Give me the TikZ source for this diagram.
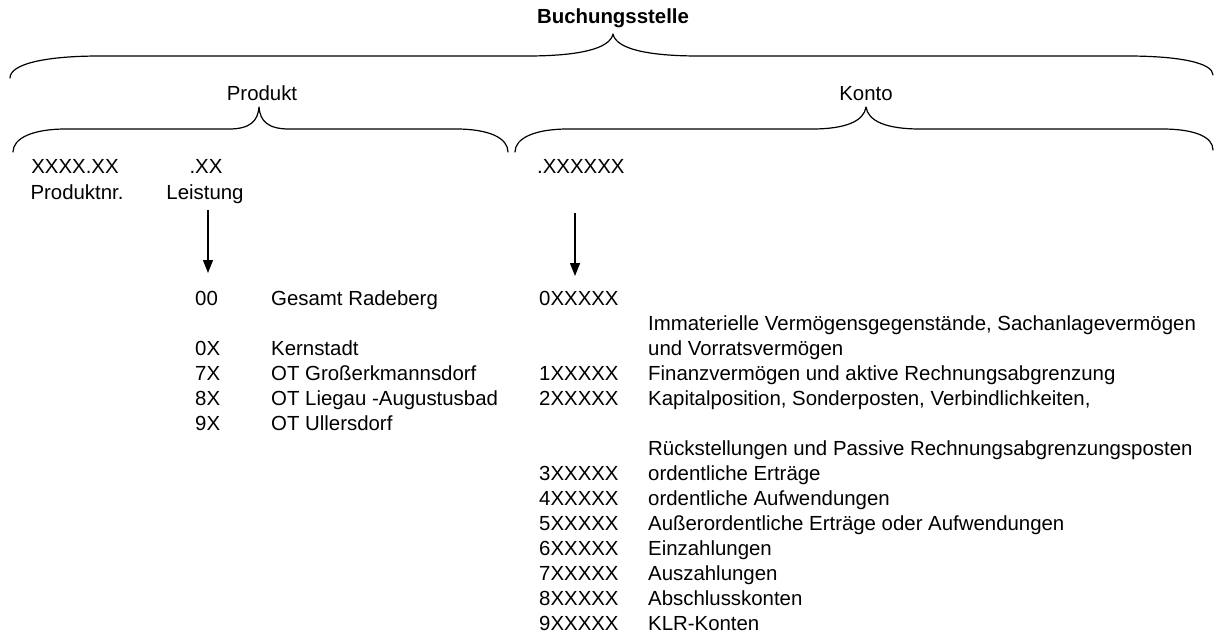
\documentclass[tikz,border=0pt]{standalone}
\usepackage{fontspec}
\setmainfont{Liberation Sans}
\usetikzlibrary{arrows.meta}
\begin{document}
\begin{tikzpicture}[x=1pt,y=-1pt,
  lbl/.style={inner sep=0pt, anchor=base west, font=\fontsize{20.4}{25}\selectfont},
  clbl/.style={inner sep=0pt, anchor=base, font=\fontsize{20.4}{25}\selectfont},
  brace/.style={line width=1.2pt, line cap=round, line join=round},
  arr/.style={line width=1.4pt, -{Triangle[length=13pt,width=10pt]}}]
\useasboundingbox (0,0) rectangle (1215,634);

% headings
\node[clbl, font=\fontsize{20.4}{25}\selectfont\bfseries] (buch) at (613,24) {Buchungsstelle};
\node[clbl] (produkt) at (262,100) {Produkt};
\node[clbl] (konto) at (866,100) {Konto};

% curly braces
\draw[brace] (10,78) .. controls (10,64) and (45,56) .. (100,56) -- (527,56)
  .. controls (578,56) and (610,49) .. (613,34)
  .. controls (616,49) and (648,56) .. (699,56) -- (1127,56)
  .. controls (1180,56) and (1213,63) .. (1213,75);
\draw[brace] (13,152) .. controls (13,138) and (33,129) .. (66,129) -- (229,129)
  .. controls (250,129) and (258,121) .. (259,107)
  .. controls (260,121) and (268,129) .. (289,129) -- (456,129)
  .. controls (489,129) and (508,138) .. (508,152);
\draw[brace] (515,152) .. controls (515,138) and (535,129) .. (568,129) -- (812,129)
  .. controls (846,129) and (864,121) .. (866,107)
  .. controls (868,121) and (886,129) .. (920,129) -- (1162,129)
  .. controls (1195,129) and (1213,137) .. (1213,150);

% key parts
\node[clbl] (pnr) at (75,173) {XXXX.XX};
\node[clbl] (lst) at (206,173) {.XX};
\node[clbl] (pnrlab) at (77,199) {Produktnr.};
\node[clbl] (lstlab) at (205,199) {Leistung};
\node[lbl] (kto) at (537,173) {.XXXXXX};

% Leistung codes
\node[lbl] (l00) at (195,305) {00};
\node[lbl] (l00t) at (271,305) {Gesamt Radeberg};
\node[lbl] (l0x) at (195,355) {0X};
\node[lbl] (l0xt) at (271,355) {Kernstadt};
\node[lbl] (l7x) at (195,380) {7X};
\node[lbl] (l7xt) at (271,380) {OT Großerkmannsdorf};
\node[lbl] (l8x) at (195,405) {8X};
\node[lbl] (l8xt) at (271,405) {OT Liegau -Augustusbad};
\node[lbl] (l9x) at (195,430) {9X};
\node[lbl] (l9xt) at (271,430) {OT Ullersdorf};

% account classes
\node[lbl] (k0) at (539,305) {0XXXXX};
\node[lbl] (k0a) at (648,330) {Immaterielle Vermögensgegenstände, Sachanlagevermögen};
\node[lbl] (k0b) at (648,355) {und Vorratsvermögen};
\node[lbl] (k1) at (539,380) {1XXXXX};
\node[lbl] (k1t) at (648,380) {Finanzvermögen und aktive Rechnungsabgrenzung};
\node[lbl] (k2) at (539,405) {2XXXXX};
\node[lbl] (k2t) at (648,405) {Kapitalposition, Sonderposten, Verbindlichkeiten,};
\node[lbl] (k2b) at (648,455) {Rückstellungen und Passive Rechnungsabgrenzungsposten};
\node[lbl] (k3) at (539,480) {3XXXXX};
\node[lbl] (k3t) at (648,480) {ordentliche Erträge};
\node[lbl] (k4) at (539,505) {4XXXXX};
\node[lbl] (k4t) at (648,505) {ordentliche Aufwendungen};
\node[lbl] (k5) at (539,530) {5XXXXX};
\node[lbl] (k5t) at (648,530) {Außerordentliche Erträge oder Aufwendungen};
\node[lbl] (k6) at (539,555) {6XXXXX};
\node[lbl] (k6t) at (648,555) {Einzahlungen};
\node[lbl] (k7) at (539,580) {7XXXXX};
\node[lbl] (k7t) at (648,580) {Auszahlungen};
\node[lbl] (k8) at (539,605) {8XXXXX};
\node[lbl] (k8t) at (648,605) {Abschlusskonten};
\node[lbl] (k9) at (539,630) {9XXXXX};
\node[lbl] (k9t) at (648,630) {KLR-Konten};

% arrows
\coordinate (a1s) at (208,210);
\coordinate (a1e) at (208,273);
\coordinate (a2s) at (575,213);
\coordinate (a2e) at (575,276);
\draw[arr] (a1s) -- (a1e);
\draw[arr] (a2s) -- (a2e);
\end{tikzpicture}
\end{document}
